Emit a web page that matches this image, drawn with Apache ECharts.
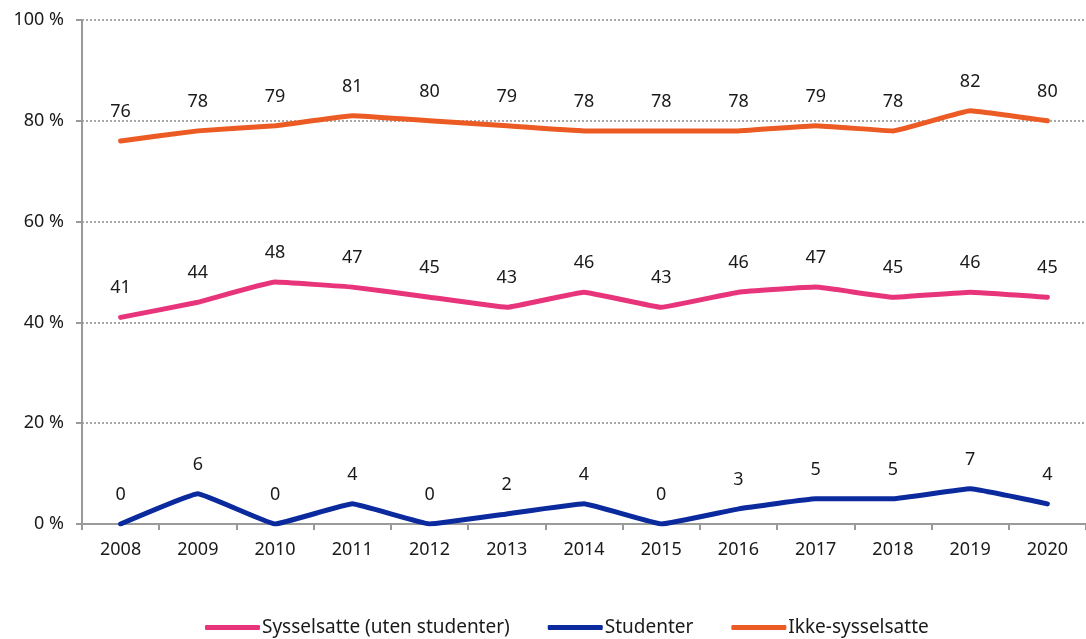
<!DOCTYPE html>
<html>
<head>
<meta charset="utf-8">
<script src="https://cdn.jsdelivr.net/npm/echarts@6/dist/echarts.min.js"></script>
<style>
  html, body { margin: 0; padding: 0; background: #fff; }
  #chart { width: 1086px; height: 639px; }
</style>
</head>
<body>
<div id="chart"></div>
<script>
// Andel (%) per år, tre grupper
const years = ['2008','2009','2010','2011','2012','2013','2014','2015','2016','2017','2018','2019','2020'];
const sysselsatte = [41, 44, 48, 47, 45, 43, 46, 43, 46, 47, 45, 46, 45];
const studenter = [0, 6, 0, 4, 0, 2, 4, 0, 3, 5, 5, 7, 4];
const ikkeSysselsatte = [76, 78, 79, 81, 80, 79, 78, 78, 78, 79, 78, 82, 80];
const yTicks = [0, 20, 40, 60, 80, 100];

const FONT = 'Noto Sans';
const TEXT = '#1a1a1a';

function lineSeries(name, data, color) {
  return {
    name: name,
    type: 'line',
    data: data,
    smooth: 0.08,
    symbol: 'circle',
    symbolSize: 0.1,
    showSymbol: true,
    showAllSymbol: true,
    lineStyle: { color: color, width: 5, cap: 'round', join: 'round' },
    itemStyle: { color: color },
    label: {
      show: true,
      position: 'top',
      distance: 20,
      color: TEXT,
      fontFamily: FONT,
      fontSize: 18
    },
    emphasis: { disabled: true }
  };
}

const chart = echarts.init(document.getElementById('chart'));
chart.setOption({
  animation: false,
  textStyle: { fontFamily: FONT },
  grid: { left: 82, right: -9, top: 20, bottom: 115, containLabel: false },
  legend: {
    left: 200,
    bottom: -3,
    itemWidth: 55,
    itemHeight: 5,
    itemGap: 38,
    icon: 'roundRect',
    textStyle: { color: TEXT, fontFamily: FONT, fontSize: 19, padding: [0, 0, 0, -3] },
    data: ['Sysselsatte (uten studenter)', 'Studenter', 'Ikke-sysselsatte']
  },
  xAxis: {
    type: 'category',
    data: years,
    boundaryGap: true,
    axisLine: { lineStyle: { color: '#9a9a9a', width: 2 } },
    axisTick: { show: true, length: 6, lineStyle: { color: '#9a9a9a', width: 2 } },
    axisLabel: { color: TEXT, fontFamily: FONT, fontSize: 18, margin: 17 }
  },
  yAxis: {
    type: 'value',
    min: 0,
    max: 100,
    interval: 20,
    axisLine: { show: true, lineStyle: { color: '#9a9a9a', width: 2 } },
    axisTick: { show: true, length: 6, lineStyle: { color: '#9a9a9a', width: 2 } },
    axisLabel: {
      color: TEXT, fontFamily: FONT, fontSize: 18, margin: 18,
      formatter: v => yTicks.includes(v) ? v + ' %' : ''
    },
    splitLine: { show: true, lineStyle: { color: '#8c8c8c', width: 1.5, type: [2, 2] } }
  },
  series: [
    lineSeries('Sysselsatte (uten studenter)', sysselsatte, '#e8347a'),
    lineSeries('Studenter', studenter, '#0b2a9e'),
    lineSeries('Ikke-sysselsatte', ikkeSysselsatte, '#ec5b23')
  ]
});
</script>
</body>
</html>
